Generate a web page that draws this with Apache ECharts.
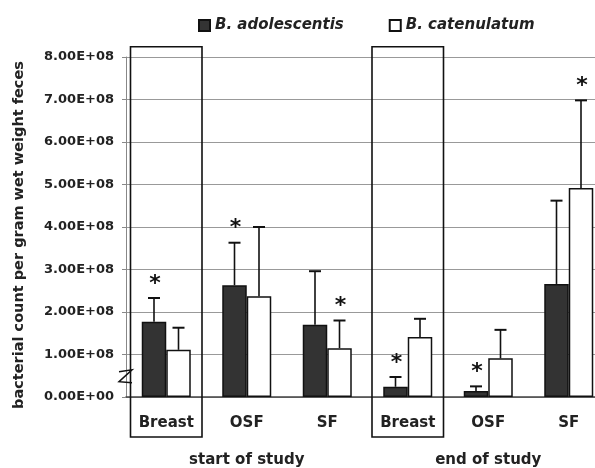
<!DOCTYPE html>
<html>
<head>
  <meta charset="utf-8">
  <script src="https://cdn.jsdelivr.net/npm/echarts@6/dist/echarts.min.js"></script>
</head>
<body style="margin:0;background:#fff;">
  <div id="container" style="width:595px;height:468px;"></div>
  <script type="text/javascript">
    var categories = ['Breast', 'OSF', 'SF', 'Breast', 'OSF', 'SF'];
    var groups = ['start of study', 'end of study'];
    var seriesNames = ['B. adolescentis', 'B. catenulatum'];
    var adolescentis = [1.77e8, 2.63e8, 1.70e8, 0.24e8, 0.14e8, 2.66e8];
    var adolescentisErr = [2.33e8, 3.63e8, 2.96e8, 0.47e8, 0.25e8, 4.62e8];
    var catenulatum = [1.11e8, 2.37e8, 1.15e8, 1.41e8, 0.91e8, 4.92e8];
    var catenulatumErr = [1.63e8, 4.00e8, 1.80e8, 1.84e8, 1.58e8, 6.98e8];
    var adolescentisStar = [1, 1, 0, 1, 1, 0];
    var catenulatumStar = [0, 0, 1, 0, 0, 1];
    var boxed = [0, 3];
    var yTicks = { min: 0, max: 8e8, interval: 1e8 };

    var dom = document.getElementById('container');
    var myChart = echarts.init(dom, null, { renderer: 'canvas' });
    var font = 'DejaVu Sans';
    var barW = 24.5;

    function sciLabel(v) {
      if (v === 0) return '0.00E+00';
      var e = Math.floor(Math.log10(v) + 1e-9);
      var m = v / Math.pow(10, e);
      return m.toFixed(2) + 'E+' + (e < 10 ? '0' + e : e);
    }

    function errorSeries(vals, errs, stars, side) {
      return {
        type: 'custom',
        silent: true,
        z: 5,
        data: vals.map(function (v, i) { return [i, v, errs[i], stars[i]]; }),
        renderItem: function (params, api) {
          var base = api.coord([api.value(0), api.value(1)]);
          var top = api.coord([api.value(0), api.value(2)]);
          var x = base[0] + side * barW / 2;
          var children = [
            { type: 'line', shape: { x1: x, y1: base[1], x2: x, y2: top[1] }, style: { stroke: '#111', lineWidth: 1.6 } },
            { type: 'line', shape: { x1: x - 6, y1: top[1], x2: x + 6, y2: top[1] }, style: { stroke: '#111', lineWidth: 2 } }
          ];
          if (api.value(3)) {
            children.push({
              type: 'text',
              style: { text: '*', x: x + 1, y: top[1] - 3, align: 'center', verticalAlign: 'bottom', fill: '#111', font: 'bold 22px "DejaVu Sans"' }
            });
          }
          return { type: 'group', children: children };
        }
      };
    }

    var option = {
      animation: false,
      backgroundColor: '#fff',
      legend: {
        left: 193,
        top: 13,
        icon: 'rect',
        itemWidth: 11,
        itemHeight: 11,
        itemGap: 45,
        data: seriesNames,
        textStyle: { fontFamily: font, fontSize: 15, fontWeight: 'bold', fontStyle: 'italic', color: '#222' }
      },
      grid: { left: 126, top: 57, width: 483, height: 340, outerBoundsMode: 'none' },
      xAxis: [
        {
          type: 'category',
          data: categories,
          axisLine: { lineStyle: { color: '#444', width: 1.5 } },
          axisTick: { interval: 0, length: 38, lineStyle: { color: '#888' } },
          axisLabel: { margin: 19, fontFamily: font, fontSize: 15, fontWeight: 'bold', color: '#222' }
        },
        {
          type: 'category',
          data: groups,
          position: 'bottom',
          axisLine: { show: false },
          axisTick: { interval: 0, length: 71, lineStyle: { color: '#888' } },
          axisLabel: { margin: 56, fontFamily: font, fontSize: 15, fontWeight: 'bold', color: '#222' }
        }
      ],
      yAxis: {
        type: 'value',
        min: yTicks.min,
        max: yTicks.max,
        interval: yTicks.interval,
        name: 'bacterial count per gram wet weight feces',
        nameLocation: 'middle',
        nameGap: 99,
        nameTextStyle: { fontFamily: font, fontSize: 14.5, fontWeight: 'bold', color: '#222', padding: [0, 16, 0, 0] },
        axisLine: { show: true, lineStyle: { color: '#888' } },
        axisTick: { show: true, length: 4, lineStyle: { color: '#888' } },
        axisLabel: { margin: 12, fontFamily: font, fontSize: 13, fontWeight: 'bold', color: '#222', formatter: sciLabel },
        splitLine: { lineStyle: { color: '#999', width: 1 } }
      },
      series: [
        {
          name: seriesNames[0],
          type: 'bar',
          barWidth: barW,
          barGap: '0%',
          data: adolescentis,
          itemStyle: { color: '#333', borderColor: '#111', borderWidth: 1.5 }
        },
        {
          name: seriesNames[1],
          type: 'bar',
          barWidth: barW,
          data: catenulatum,
          itemStyle: { color: '#fff', borderColor: '#111', borderWidth: 1.5 }
        },
        errorSeries(adolescentis, adolescentisErr, adolescentisStar, -1),
        errorSeries(catenulatum, catenulatumErr, catenulatumStar, 1),
        {
          // boxes around the breast-fed groups
          type: 'custom',
          silent: true,
          clip: false,
          z: 6,
          data: boxed.map(function (i) { return [i]; }),
          renderItem: function (params, api) {
            var c = api.coord([api.value(0), 8.24e8]);
            var zero = api.coord([api.value(0), 0]);
            var w = api.size([1, 0])[0];
            return {
              type: 'rect',
              shape: { x: c[0] - w / 2 + 4.5, y: c[1], width: w - 9, height: zero[1] + 40 - c[1] },
              style: { fill: 'none', stroke: '#111', lineWidth: 1.6 }
            };
          }
        },
        {
          // axis break mark
          type: 'custom',
          silent: true,
          clip: false,
          z: 7,
          data: [[0, 0.5e8]],
          renderItem: function (params, api) {
            var c = api.coord([api.value(0), api.value(1)]);
            var x = c[0] - api.size([1, 0])[0] / 2;
            var y = c[1] + 1;
            return {
              type: 'polyline',
              shape: { points: [[x - 7, y - 5], [x + 6, y - 7], [x - 7, y + 5], [x + 6, y + 6]] },
              style: { fill: 'none', stroke: '#111', lineWidth: 1.5 }
            };
          }
        }
      ]
    };

    myChart.setOption(option);
    window.addEventListener('resize', myChart.resize);
  </script>
</body>
</html>
